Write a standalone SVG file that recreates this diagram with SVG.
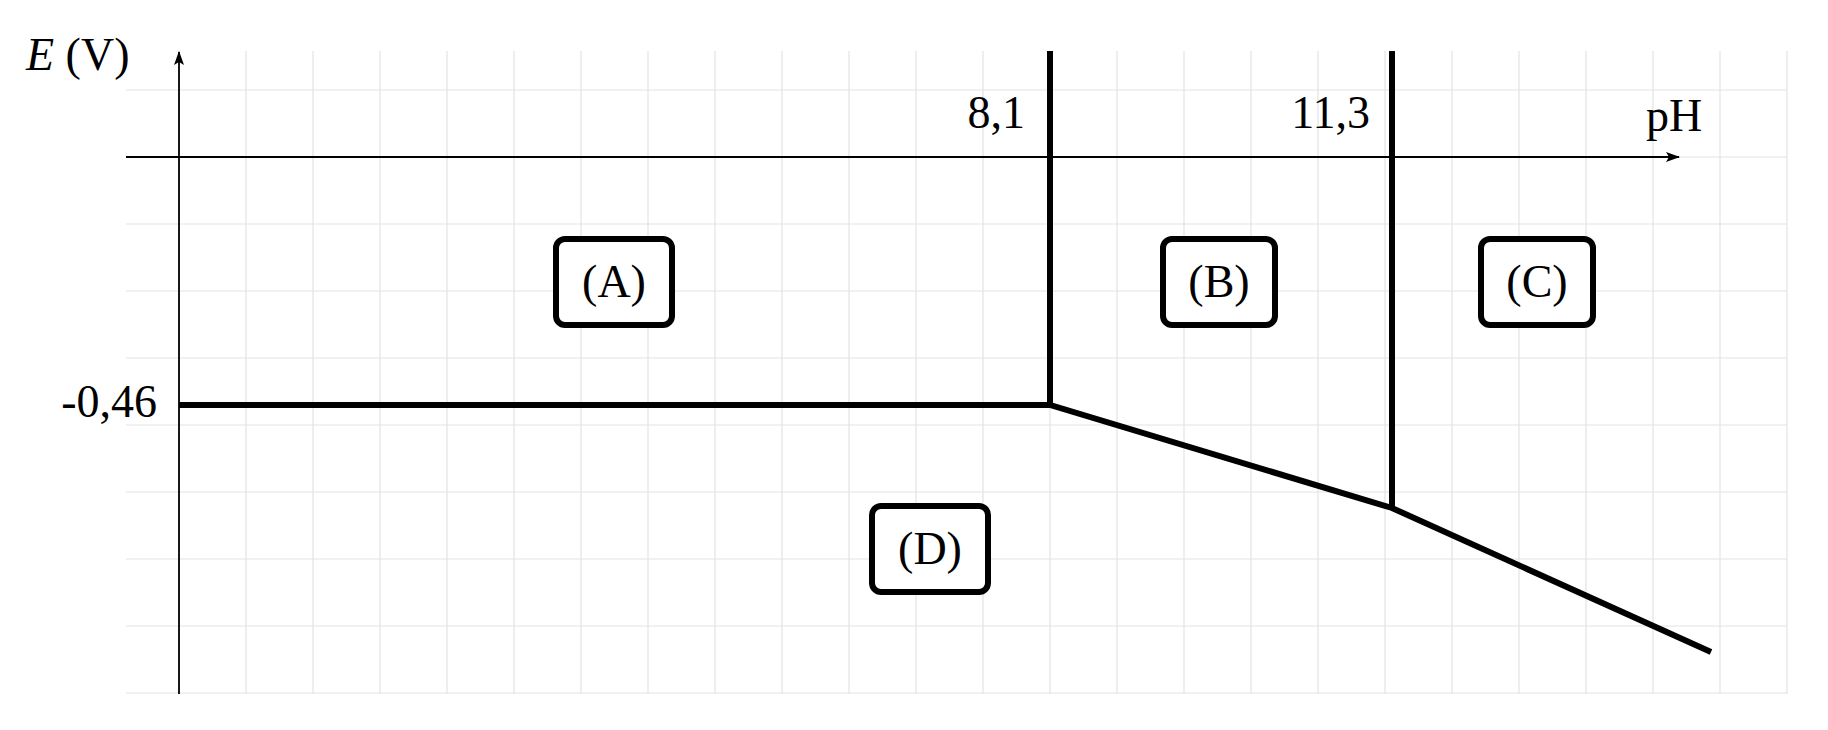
<svg xmlns="http://www.w3.org/2000/svg" width="1828" height="730" viewBox="0 0 1828 730">
<style>
.g{stroke:#e3e3e3;stroke-width:1.2}
.ax{stroke:#000;stroke-width:1.8;fill:none}
.th{stroke:#000;stroke-width:6;fill:none}
.bx{stroke:#000;stroke-width:6;fill:#fff}
text{font-family:"Liberation Serif",serif;fill:#000;font-size:46px}
</style>
<defs><marker id="ar" markerWidth="14" markerHeight="10" refX="13" refY="5" orient="auto" markerUnits="userSpaceOnUse"><path d="M0,0 L14,5 L0,10 L3,5 Z" fill="#000"/></marker></defs>
<rect width="1828" height="730" fill="#fff"/>
<g id="grid">
<path class="g" d="M179,51V694M246,51V694M313,51V694M380,51V694M447,51V694M514,51V694M581,51V694M648,51V694M715,51V694M782,51V694M849,51V694M916,51V694M983,51V694M1050,51V694M1117,51V694M1184,51V694M1251,51V694M1318,51V694M1385,51V694M1452,51V694M1519,51V694M1586,51V694M1653,51V694M1720,51V694M1787,51V694"/>
<path class="g" d="M126,90H1787M126,157H1787M126,224H1787M126,291H1787M126,358H1787M126,425H1787M126,492H1787M126,559H1787M126,626H1787M126,693H1787"/>
</g>
<g id="connectors">
<line class="ax" x1="179" y1="694" x2="179" y2="52" marker-end="url(#ar)"/>
<line class="ax" x1="126" y1="157" x2="1679" y2="157" marker-end="url(#ar)"/>
<path class="th" d="M1050,51V405M1392,51V508M179,405H1050L1392,508L1711,652"/>
</g>
<text x="26" y="70"><tspan font-style="italic">E</tspan> (V)</text>
<text x="157" y="417" text-anchor="end">-0,46</text>
<text x="1025" y="128" text-anchor="end">8,1</text>
<text x="1370" y="128" text-anchor="end">11,3</text>
<text x="1646" y="131">pH</text>
<g id="A"><rect class="bx" x="556" y="239" width="116" height="86" rx="9"/><text x="614" y="297" text-anchor="middle">(A)</text></g>
<g id="B"><rect class="bx" x="1163" y="239" width="112" height="86" rx="9"/><text x="1219" y="297" text-anchor="middle">(B)</text></g>
<g id="C"><rect class="bx" x="1481" y="239" width="112" height="86" rx="9"/><text x="1537" y="297" text-anchor="middle">(C)</text></g>
<g id="D"><rect class="bx" x="872" y="506" width="116" height="86" rx="9"/><text x="930" y="564" text-anchor="middle">(D)</text></g>
</svg>
